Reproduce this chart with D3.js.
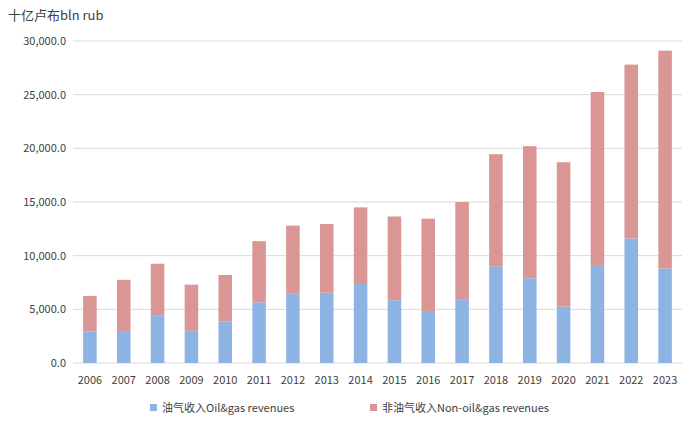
<!DOCTYPE html>
<html><head><meta charset="utf-8">
<script src="https://cdn.jsdelivr.net/npm/d3@7"></script>
<style>body{margin:0;background:#fff;font-family:"Noto Sans CJK SC","Noto Sans",sans-serif}</style>
</head><body>
<svg id="chart" width="700" height="431"></svg>
<script>
// Russian budget revenues, billion rubles
const years = [2006,2007,2008,2009,2010,2011,2012,2013,2014,2015,2016,2017,2018,2019,2020,2021,2022,2023]
const oilGas = [2950,2900,4400,3000,3850,5650,6450,6550,7450,5850,4850,5950,9000,7900,5250,9050,11600,8800]
const totals = [6250,7750,9250,7300,8200,11350,12800,12950,14500,13650,13450,15000,19450,20200,18700,25250,27800,29100]
const nonOilGas = totals.map((t, i) => t - oilGas[i])
const yTicks = [0,5000,10000,15000,20000,25000,30000]

const svg = d3.select("#chart")
const x = d3.scaleBand().domain(years).range([73, 682]).paddingInner(0.6).paddingOuter(0.3)
const y = d3.scaleLinear().domain([0, 30000]).range([363, 41])

// gridlines
svg.append("g").selectAll("line").data(yTicks).enter().append("line")
  .attr("x1", 73).attr("x2", 682)
  .attr("y1", d => y(d)).attr("y2", d => y(d))
  .attr("stroke", "#d9d9d9").attr("stroke-width", 1)

// y labels
svg.append("g").selectAll("text").data(yTicks).enter().append("text")
  .attr("x", 66).attr("y", d => y(d) + 4)
  .attr("text-anchor", "end").attr("font-size", 11).attr("fill", "#404040")
  .text(d => d3.format(",.1f")(d))

// x labels
svg.append("g").selectAll("text").data(years).enter().append("text")
  .attr("x", d => x(d) + x.bandwidth() / 2).attr("y", 384)
  .attr("text-anchor", "middle").attr("font-size", 11).attr("fill", "#404040")
  .text(d => d)

// stacked bars
const rows = years.map((yr, i) => ({year: yr, oil: oilGas[i], non: nonOilGas[i]}))
const stack = d3.stack().keys(["oil", "non"])(rows)
const colors = {oil: "#8db3e2", non: "#d99694"}
svg.append("g").selectAll("g").data(stack).enter().append("g")
  .attr("fill", d => colors[d.key])
  .selectAll("rect").data(d => d).enter().append("rect")
  .attr("x", d => x(d.data.year)).attr("width", x.bandwidth())
  .attr("y", d => y(d[1])).attr("height", d => y(d[0]) - y(d[1]))

// unit title
svg.append("text").attr("x", 8).attr("y", 20).attr("font-size", 13).attr("fill", "#404040")
  .text("十亿卢布bln rub")

// legend
const legend = [
  {label: "油气收入Oil&gas revenues", color: colors.oil, x: 150},
  {label: "非油气收入Non-oil&gas revenues", color: colors.non, x: 370}
]
const lg = svg.append("g").selectAll("g").data(legend).enter().append("g")
  .attr("transform", d => `translate(${d.x},404)`)
lg.append("rect").attr("width", 7).attr("height", 7).attr("fill", d => d.color)
lg.append("text").attr("x", 12).attr("y", 8).attr("font-size", 11).attr("fill", "#404040")
  .text(d => d.label)
</script>
</body></html>
